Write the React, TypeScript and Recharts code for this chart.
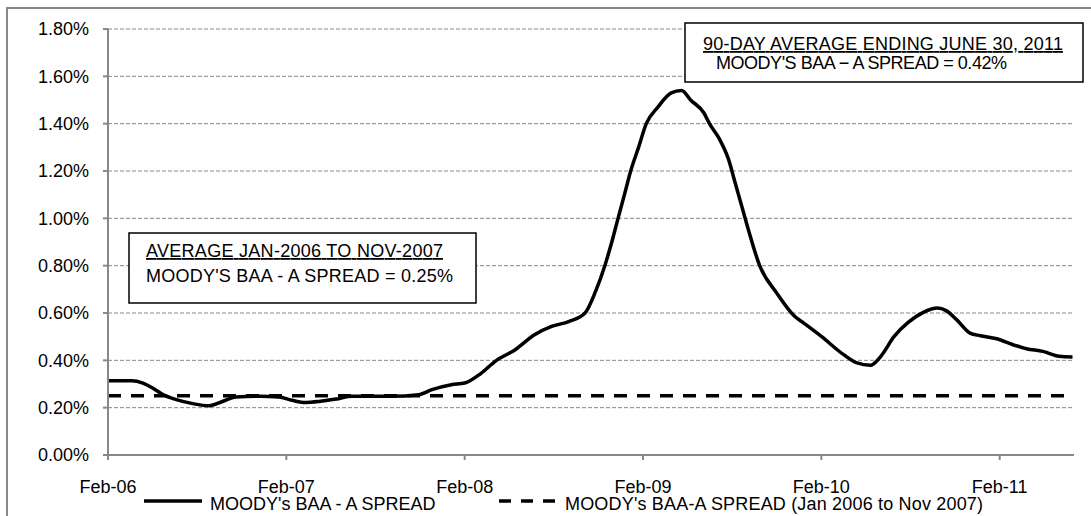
import { LineChart, Line, XAxis, YAxis, CartesianGrid } from 'recharts';

// months counted from Feb-06 (0) to end of Jun-11 (~65)
const monthIdx = [
  0, 1.6, 2.35, 3.0, 3.7, 4.6, 5.7, 6.8, 7.7, 8.6, 10.2, 11.5, 12.4, 13.3, 14.2, 15.5, 16.4,
  19.1, 20.9, 21.8, 23.1, 24.0, 25.1, 26.1, 27.4, 28.7, 29.85, 31.0, 32.1, 32.8, 33.43, 33.9,
  34.32, 34.75, 35.17, 35.7, 36.22, 37.0, 37.9, 38.6, 39.2, 40.1, 40.47, 41.1, 41.75, 42.2,
  42.65, 43.1, 43.85, 45.0, 46.2, 46.8, 48.0, 49.5, 50.4, 51.3, 52.0, 52.9, 53.8, 54.9, 55.8,
  56.4, 57.1, 58.0, 58.7, 59.8, 60.9, 61.8, 62.9, 64.0, 64.9,
];

// MOODY's BAA - A spread (90-day average), percent
const spread = [
  0.314, 0.314, 0.304, 0.283, 0.255, 0.234, 0.217, 0.208, 0.226, 0.245, 0.248, 0.245, 0.231,
  0.222, 0.226, 0.238, 0.248, 0.248, 0.255, 0.276, 0.297, 0.304, 0.345, 0.398, 0.445, 0.508,
  0.543, 0.564, 0.6, 0.69, 0.8, 0.9, 1.0, 1.1, 1.2, 1.3, 1.4, 1.47, 1.53,
  1.54, 1.5, 1.445, 1.4, 1.34, 1.25, 1.15, 1.05, 0.95, 0.8, 0.684, 0.586, 0.558,
  0.501, 0.424, 0.389, 0.379, 0.417, 0.501, 0.558, 0.604, 0.621, 0.61, 0.572, 0.515, 0.504,
  0.491, 0.466, 0.449, 0.438, 0.417, 0.414,
];

const avgSpread = 0.25; // Jan 2006 to Nov 2007

const xTickMonths = [0, 12, 24, 36, 48, 60];
const xTickLabels = ['Feb-06', 'Feb-07', 'Feb-08', 'Feb-09', 'Feb-10', 'Feb-11'];
const yTicks = [0, 0.2, 0.4, 0.6, 0.8, 1.0, 1.2, 1.4, 1.6, 1.8];

const seriesNames = ["MOODY's BAA - A SPREAD", "MOODY's BAA-A SPREAD (Jan 2006 to Nov 2007)"];

const FONT = '"Liberation Sans", Arial, sans-serif';
const AXIS = '#888888';

export default function App() {
  const chartData = monthIdx.map((m, i) => ({ m, spread: spread[i], avg: avgSpread }));

  return (
    <div style={{ position: 'relative', width: 1091, height: 516, overflow: 'hidden', fontFamily: FONT }}>
      <style>{`body{margin:0;overflow:hidden}`}</style>
      {/* outer chart border */}
      <div
        style={{
          position: 'absolute', left: 6, top: 7, width: 1200, height: 600,
          borderLeft: `2px solid ${AXIS}`, borderTop: `2px solid ${AXIS}`,
        }}
      />
      <div style={{ position: 'absolute', left: 0, top: 0 }}>
        <LineChart width={1091} height={516} data={chartData} margin={{ top: 29, right: 17, left: 8, bottom: 21 }}>
          <CartesianGrid vertical={false} stroke={AXIS} strokeDasharray="4 2" />
          <XAxis
            dataKey="m"
            type="number"
            domain={[0, 65]}
            ticks={xTickMonths}
            tickFormatter={(v) => xTickLabels[xTickMonths.indexOf(v)] ?? ''}
            height={40}
            stroke={AXIS}
            strokeWidth={2}
            tickSize={5}
            tickMargin={20}
            tick={{ fill: '#000', fontSize: 18, fontFamily: FONT }}
          />
          <YAxis
            type="number"
            domain={[0, 1.8]}
            ticks={yTicks}
            tickFormatter={(v) => `${v.toFixed(2)}%`}
            width={100}
            stroke={AXIS}
            strokeWidth={2}
            tickSize={5}
            tickMargin={14}
            tick={{ fill: '#000', fontSize: 18, fontFamily: FONT }}
          />
          <Line
            dataKey="avg"
            type="linear"
            stroke="#000"
            strokeWidth={3.5}
            strokeDasharray="13 10"
            dot={false}
            isAnimationActive={false}
          />
          <Line
            dataKey="spread"
            type="monotone"
            stroke="#000"
            strokeWidth={3.5}
            dot={false}
            isAnimationActive={false}
          />
        </LineChart>
      </div>

      {/* annotations + legend */}
      <svg width={1091} height={516} style={{ position: 'absolute', left: 0, top: 0, pointerEvents: 'none' }}>
        <g fontFamily={FONT} fontSize={18} fill="#000" style={{ whiteSpace: 'pre' }}>
          <rect x={129} y={233} width={347} height={70} fill="#fff" stroke="#000" strokeWidth={1.5} />
          <text x={146} y={257} textLength={297} lengthAdjust="spacing" textDecoration="underline">
            AVERAGE JAN-2006 TO NOV-2007
          </text>
          <text x={146} y={282} textLength={307} lengthAdjust="spacing">{"MOODY'S  BAA - A SPREAD = 0.25%"}</text>

          <rect x={685} y={23} width={398} height={59} fill="#fff" stroke="#000" strokeWidth={1.5} />
          <text x={703} y={50} textLength={360} lengthAdjust="spacing" textDecoration="underline">
            90-DAY AVERAGE ENDING JUNE 30, 2011
          </text>
          <text x={716} y={69} textLength={291} lengthAdjust="spacing">{"MOODY'S BAA − A SPREAD = 0.42%"}</text>

          <line x1={144} x2={202} y1={501} y2={501} stroke="#000" strokeWidth={3.5} />
          <text x={210} y={510}>{seriesNames[0]}</text>
          <line x1={499} x2={560} y1={501} y2={501} stroke="#000" strokeWidth={3.5} strokeDasharray="12 10" />
          <text x={565} y={510} textLength={418} lengthAdjust="spacing">{seriesNames[1]}</text>
        </g>
      </svg>
    </div>
  );
}
